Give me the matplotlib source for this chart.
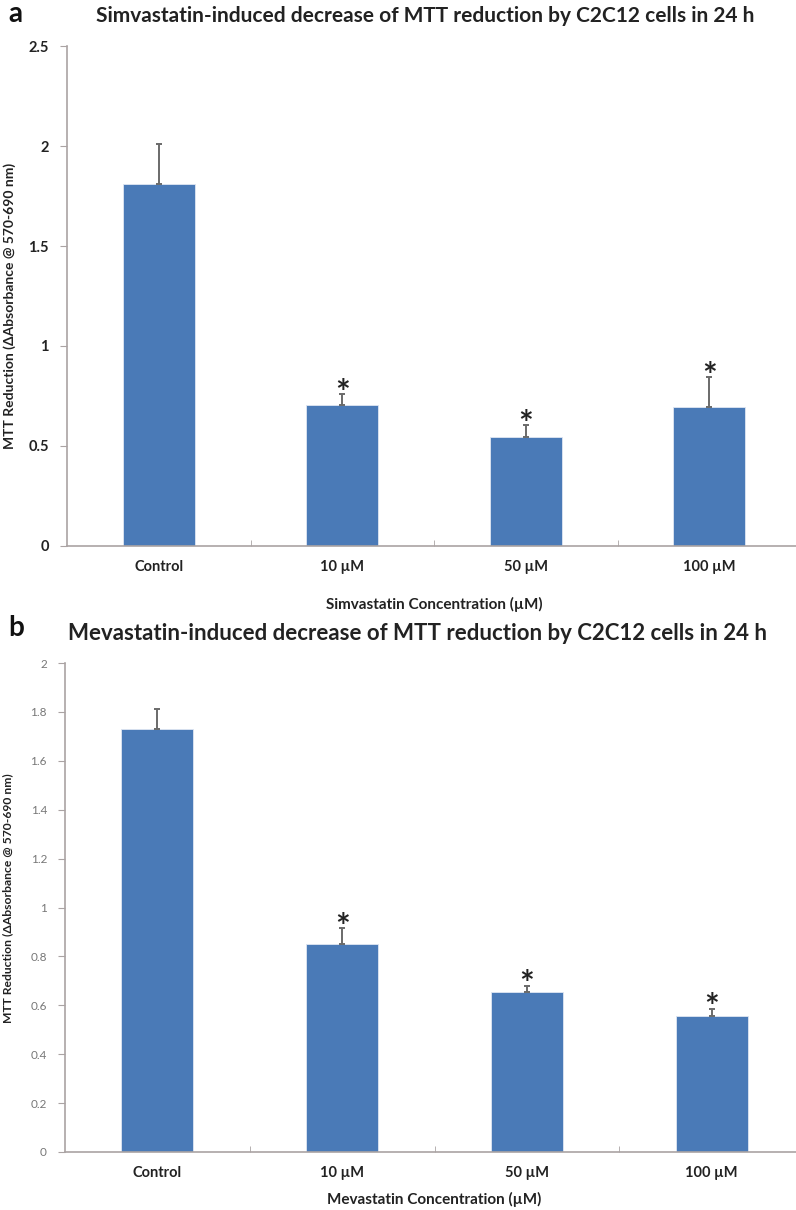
import numpy as np
import matplotlib.pyplot as plt

# Datos
categorias = ['Control', '10 µM', '50 µM', '100 µM']

sim_media = [1.81, 0.705, 0.545, 0.695]
sim_error = [0.20, 0.055, 0.06, 0.15]
sim_signif = [False, True, True, True]

mev_media = [1.73, 0.85, 0.655, 0.556]
mev_error = [0.08, 0.065, 0.025, 0.03]
mev_signif = [False, True, True, True]

color_barra = '#4a7ab7'
color_eje = '#aaa3a3'

plt.rcParams['font.family'] = ['Lato', 'DejaVu Sans']


def dibujar_panel(ax, medias, errores, signif, ymax, yticks, xlabel, ylabel_size,
                  ytick_bold, ytick_size, ytick_color):
    x = np.arange(len(categorias))
    ax.bar(x, medias, width=0.39, color=color_barra, edgecolor='#dfe6f2', linewidth=0.6, zorder=2)
    ax.errorbar(x, medias, yerr=[np.zeros(len(errores)), errores], fmt='none',
                ecolor='#6a6a6a', elinewidth=1.4, capsize=2.5, capthick=1.4, zorder=3)
    for xi, m, e, s in zip(x, medias, errores, signif):
        if s:
            ax.annotate('*', (xi, m + e), xytext=(0, -7), textcoords='offset points',
                        ha='center', va='baseline', fontsize=25, fontweight='bold',
                        color='#222222')
    ax.set_xlim(-0.5, len(categorias) - 0.5)
    ax.set_ylim(0, ymax)
    ax.set_yticks(yticks)
    ax.set_yticklabels([f'{t:g}' for t in yticks], fontsize=ytick_size,
                       fontweight='bold' if ytick_bold else 'normal', color=ytick_color)
    ax.set_xticks(x)
    ax.set_xticklabels(categorias, fontsize=10.5, fontweight='bold', color='#222222')
    ax.set_xticks(np.arange(0.5, len(categorias) - 0.5), minor=True)
    ax.tick_params(axis='x', which='major', length=0, pad=10)
    ax.tick_params(axis='x', which='minor', direction='in', length=4, color=color_eje)
    ax.tick_params(axis='y', direction='out', length=5, color=color_eje, pad=8)
    for lado in ['top', 'right']:
        ax.spines[lado].set_visible(False)
    for lado in ['left', 'bottom']:
        ax.spines[lado].set_color(color_eje)
        ax.spines[lado].set_linewidth(1.2)
    ax.set_xlabel(xlabel, fontsize=11, fontweight='bold', color='#222222', va='center')
    ax.set_ylabel('MTT Reduction (ΔAbsorbance @ 570-690 nm)', fontsize=ylabel_size,
                  fontweight='bold', color='#222222')


fig = plt.figure(figsize=(7.96, 12.1), dpi=100)

ax_a = fig.add_axes([67 / 796, 1 - 546 / 1210, 734 / 796, 500 / 1210])
dibujar_panel(ax_a, sim_media, sim_error, sim_signif, 2.5, [0, 0.5, 1, 1.5, 2, 2.5],
              'Simvastatin Concentration (µM)', 10, True, 10.5, '#222222')
ax_a.yaxis.set_label_coords(-0.07, 0.48)
ax_a.xaxis.set_label_coords(0.5, -(604 - 546) / 500)

ax_b = fig.add_axes([65 / 796, 1 - 1152 / 1210, 739 / 796, 489 / 1210])
dibujar_panel(ax_b, mev_media, mev_error, mev_signif, 2.0,
              [0, 0.2, 0.4, 0.6, 0.8, 1, 1.2, 1.4, 1.6, 1.8, 2],
              'Mevastatin Concentration (µM)', 8.7, False, 8.5, '#777777')
ax_b.yaxis.set_label_coords(-0.07, 0.52)
ax_b.xaxis.set_label_coords(0.5, -(1199 - 1152) / 489)

fig.text(425 / 796, 1 - 16 / 1210, 'Simvastatin-induced decrease of MTT reduction by C2C12 cells in 24 h',
         ha='center', va='center', fontsize=15, fontweight='bold', color='#222222')
fig.text(418 / 796, 1 - 633 / 1210, 'Mevastatin-induced decrease of MTT reduction by C2C12 cells in 24 h',
         ha='center', va='center', fontsize=16, fontweight='bold', color='#222222')
fig.text(8 / 796, 1 - 14 / 1210, 'a', ha='left', va='center', fontsize=20, fontweight='bold', color='#111111')
fig.text(8 / 796, 1 - 628 / 1210, 'b', ha='left', va='center', fontsize=20, fontweight='bold', color='#111111')

plt.savefig('out.png', dpi=100)
